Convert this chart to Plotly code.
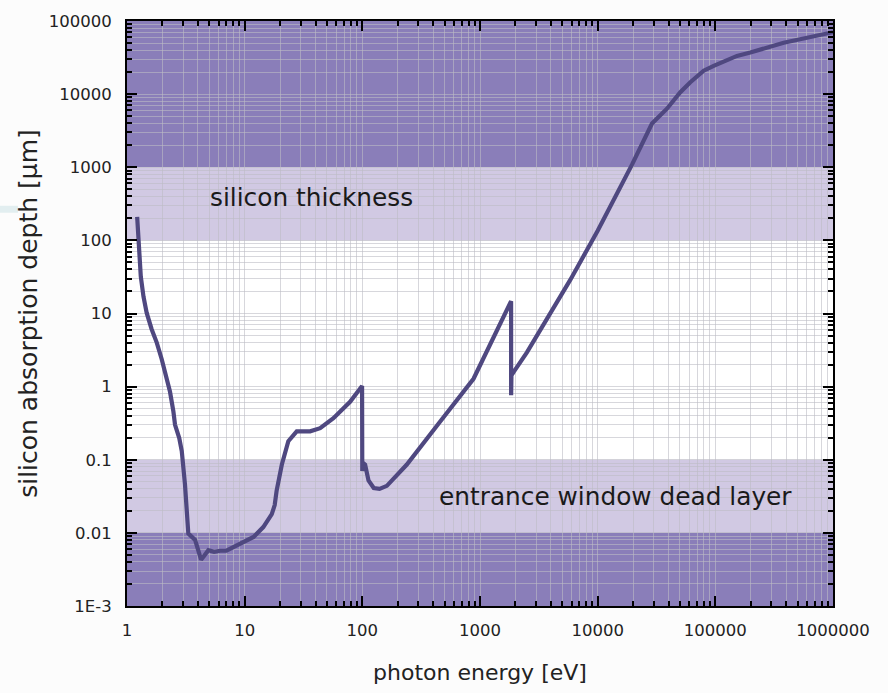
import plotly.graph_objects as go

# Photon energy [eV] and silicon absorption (attenuation) depth [µm]
energy_ev = [
    1.22, 1.25, 1.27, 1.31, 1.38, 1.47, 1.62, 1.79, 1.97, 2.10, 2.32, 2.48,
    2.56, 2.78, 2.92, 3.11, 3.32, 3.79, 4.26, 4.5, 4.91, 5.5, 6.18, 7.0,
    9.14, 11.9, 14.4, 17.0, 18.0, 18.7, 20.7, 23.5, 27.7, 36.0, 43.8, 56.8,
    78.7, 99.5, 99.9, 102.0, 105.6, 112.8, 125.0, 140.0, 161.6, 239.0, 459.0,
    881.0, 1838.0, 1839.0, 1850.0, 1928.0, 2505.0, 5848.0, 10000.0, 19580.0,
    28950.0, 38800.0, 50400.0, 61300.0, 79600.0, 96800.0, 152800.0, 198400.0,
    381000.0, 1000000.0,
]
depth_um = [
    210, 120, 66, 32, 17.1, 10.2, 6.1, 4.0, 2.39, 1.58, 0.85, 0.455,
    0.30, 0.198, 0.131, 0.046, 0.0098, 0.0080, 0.0043, 0.0048, 0.0058, 0.0055, 0.0057, 0.0057,
    0.0072, 0.0088, 0.012, 0.018, 0.024, 0.038, 0.086, 0.179, 0.244, 0.245, 0.27, 0.37,
    0.62, 1.02, 0.07, 0.09, 0.086, 0.052, 0.041, 0.040, 0.044, 0.086, 0.333,
    1.28, 14.7, 0.76, 1.42, 1.58, 2.94, 28.8, 135, 1086,
    3970, 6320, 10640, 14520, 20900, 24400, 33300, 37000,
    50400, 70300,
]

# Horizontal reference bands: (lower, upper, colour)
band_lower = [1e3, 1e2, 1e-2, 1e-3]
band_upper = [1e5, 1e3, 1e-1, 1e-2]
band_color = ["#8a7eb9", "#d1c9e3", "#d1c9e3", "#8a7eb9"]

# Tick labels
x_tickvals = [1, 10, 100, 1000, 10000, 100000, 1000000]
x_ticktext = ["1", "10", "100", "1000", "10000", "100000", "1000000"]
y_tickvals = [1e-3, 1e-2, 1e-1, 1, 10, 100, 1000, 10000, 100000]
y_ticktext = ["1E-3", "0.01", "0.1", "1", "10", "100", "1000", "10000", "100000"]

x_minor = [k * 10 ** e for e in range(0, 6) for k in range(2, 10)]
y_minor = [k * 10.0 ** e for e in range(-3, 5) for k in range(2, 10)]

FONT = "DejaVu Sans"
GRID = "rgba(188,188,196,0.6)"

fig = go.Figure()
fig.add_trace(go.Scatter(
    x=energy_ev, y=depth_um, mode="lines",
    line=dict(color="#4f4880", width=4.2),
    hoverinfo="x+y", showlegend=False,
))

shapes = []
for lo, hi, col in zip(band_lower, band_upper, band_color):
    shapes.append(dict(type="rect", xref="paper", yref="y", x0=0, x1=1,
                       y0=lo, y1=hi, fillcolor=col, line=dict(width=0),
                       layer="below"))
# small pale marker at the far left edge
shapes.append(dict(type="rect", xref="paper", yref="paper",
                   x0=-127 / 706, x1=-109 / 706, y0=(610 - 212) / 592,
                   y1=(610 - 205) / 592, fillcolor="#e2eef0",
                   line=dict(width=0), layer="below"))

axis_common = dict(
    type="log",
    showline=True, linecolor="black", linewidth=2, mirror="ticks",
    ticks="inside", ticklen=10, tickwidth=2, tickcolor="black",
    showgrid=True, gridcolor=GRID, gridwidth=1,
    zeroline=False,
    tickfont=dict(family=FONT, size=16.5, color="#222222"),
)

fig.update_layout(
    width=888, height=693,
    margin=dict(l=127, r=55, t=18, b=83),
    paper_bgcolor="#fcfcfc", plot_bgcolor="white",
    shapes=shapes,
    font=dict(family=FONT, color="#222222"),
    xaxis=dict(
        **axis_common,
        range=[0, 6],
        tickvals=x_tickvals, ticktext=x_ticktext,
        ticklabelstandoff=8,
        minor=dict(tickvals=x_minor, ticks="inside", ticklen=5, tickwidth=1.5,
                   tickcolor="black", showgrid=True, gridcolor=GRID, gridwidth=1),
        title=dict(text="photon energy [eV]", standoff=26,
                   font=dict(family=FONT, size=22, color="#222222")),
    ),
    yaxis=dict(
        **axis_common,
        range=[-3, 5],
        tickvals=y_tickvals, ticktext=y_ticktext,
        ticklabelstandoff=10,
        minor=dict(tickvals=y_minor, ticks="inside", ticklen=5, tickwidth=1.5,
                   tickcolor="black", showgrid=True, gridcolor=GRID, gridwidth=1),
        title=dict(text="silicon absorption depth [µm]", standoff=4,
                   font=dict(family=FONT, size=25, color="#222222")),
    ),
    annotations=[
        dict(text="silicon thickness", xref="paper", yref="paper",
             x=(208 - 127) / 706, y=(610 - 197) / 592, xanchor="left",
             yanchor="middle", showarrow=False,
             font=dict(family=FONT, size=24.8, color="#1a1a1a")),
        dict(text="entrance window dead layer", xref="paper", yref="paper",
             x=(437 - 127) / 706, y=(610 - 499) / 592, xanchor="left",
             yanchor="middle", showarrow=False,
             font=dict(family=FONT, size=24.8, color="#1a1a1a")),
    ],
)

fig.write_html("out.html")
